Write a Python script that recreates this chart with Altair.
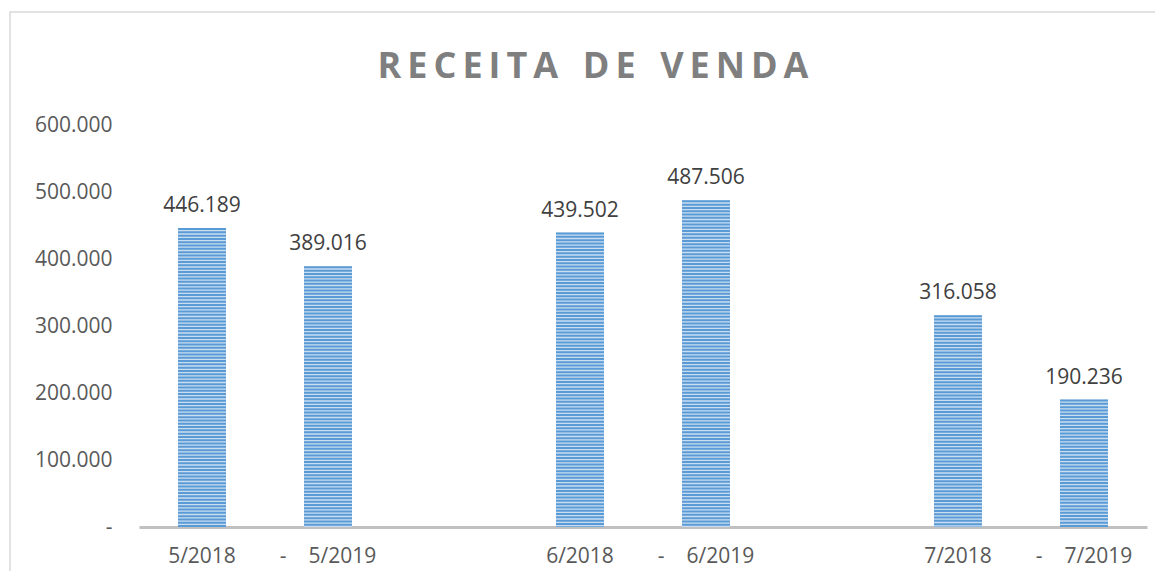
import altair as alt
import pandas as pd

# Data
slots = ["5/2018", "5/2019", "g1", "6/2018", "6/2019", "g2", "7/2018", "7/2019"]
bar_periods = ["5/2018", "5/2019", "6/2018", "6/2019", "7/2018", "7/2019"]
bar_values = [446189, 389016, 439502, 487506, 316058, 190236]
y_ticks = [0, 100000, 200000, 300000, 400000, 500000, 600000]

df = pd.DataFrame({"periodo": bar_periods, "valor": bar_values})
df["rotulo"] = [f"{v:,}".replace(",", ".") for v in bar_values]

FONT = "Open Sans"
NB = "\u00a0"
TS = "\u2009"

title_text = (TS.join("RECEITA") + " " + TS + " " + TS.join("DE") + " " + TS + " " + TS.join("VENDA"))

x_enc = alt.X(
    "periodo:N",
    scale=alt.Scale(domain=slots, paddingInner=0.0, paddingOuter=0.0),
    sort=slots,
    axis=alt.Axis(
        title=None,
        labelAngle=0,
        ticks=False,
        domain=True,
        domainColor="#c0c0c0",
        domainWidth=3,
        labelFont=FONT,
        labelFontSize=21,
        labelColor="#595959",
        labelPadding=18,
        labelExpr=(
            "indexof(datum.value,'2019')>=0 ? '-" + NB * 4 + "' + datum.value : "
            "(indexof(datum.value,'/')>=0 ? datum.value : '')"
        ),
    ),
)
y_scale = alt.Scale(domain=[0, 600000], nice=False)
y_axis = alt.Axis(
    title=None,
    values=y_ticks,
    grid=False,
    ticks=False,
    domain=False,
    labelFont=FONT,
    labelFontSize=21,
    labelColor="#595959",
    labelPadding=27,
    labelExpr="datum.value == 0 ? '-" + NB * 2 + "' : replace(format(datum.value, ','), ',', '.')",
)

base = alt.Chart(df)

bars = base.mark_bar(size=48, color="#c9ddf2").encode(
    x=x_enc,
    y=alt.Y("valor:Q", scale=y_scale, axis=y_axis),
)

stripes = base.mark_rule(
    strokeWidth=48, strokeDash=[2, 1.3], color="#5b9bd5", strokeCap="butt"
).encode(
    x=alt.X("periodo:N", sort=slots),
    y=alt.Y("valor:Q"),
    y2=alt.Y2(datum=0),
)

labels = base.mark_text(
    baseline="bottom", dy=-12, font=FONT, fontSize=21, color="#404040"
).encode(
    x=alt.X("periodo:N", sort=slots),
    y=alt.Y("valor:Q"),
    text="rotulo:N",
)

border = alt.Chart(alt.Data(values=[{"k": 1}])).mark_rect(
    fill="transparent", stroke="#d9d9d9", strokeWidth=1.5
).encode(
    x=alt.value(-129), x2=alt.value(1100), y=alt.value(-113), y2=alt.value(520)
)

chart = (
    alt.layer(border, bars, stripes, labels)
    .properties(
        width=1008,
        height=402,
        background="white",
        title=alt.TitleParams(
            title_text,
            font=FONT,
            fontSize=36,
            fontWeight="bold",
            color="#7f7f7f",
            anchor="middle",
            dx=-50,
            offset=-75,
        ),
        autosize=alt.AutoSizeParams(type="none"),
        padding={"left": 131, "top": 117, "right": 8, "bottom": 44},
    )
    .configure_view(stroke="transparent", strokeWidth=0)
)

chart.save("out.html", embed_options={"renderer": "svg", "actions": False})
